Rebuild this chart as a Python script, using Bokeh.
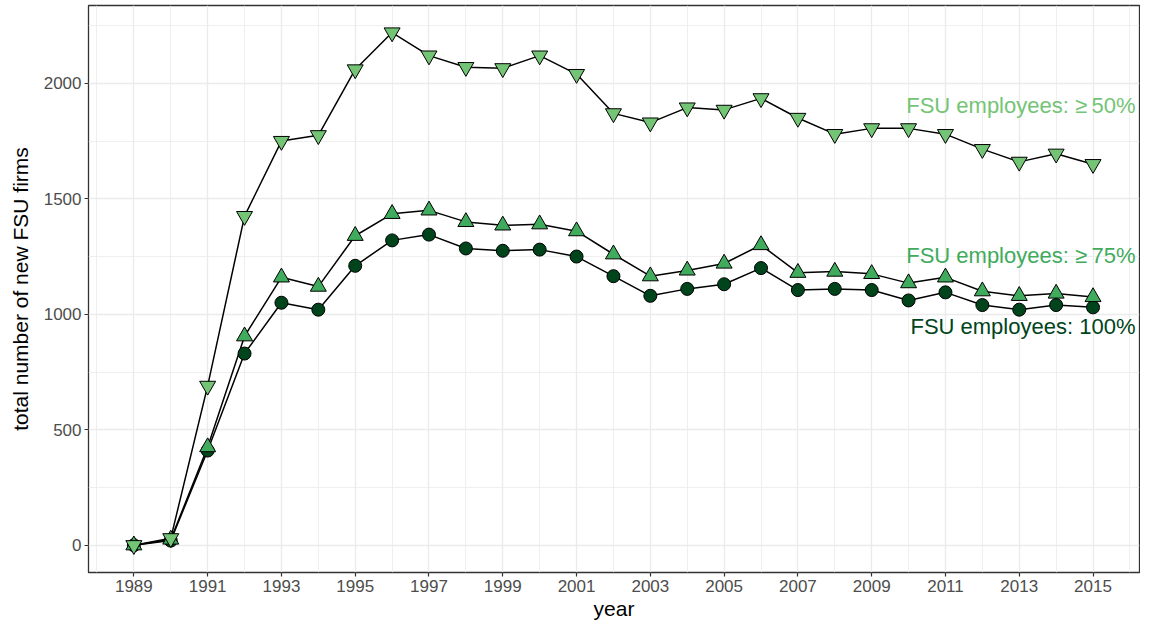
from bokeh.plotting import figure
from bokeh.models import FixedTicker, Range1d, ColumnDataSource
from bokeh.core.properties import value
from bokeh.embed import file_html
from bokeh.resources import INLINE

years = list(range(1989, 2016))

fsu_50 = [0, 30, 690, 1425, 1750, 1775, 2060, 2220, 2120, 2070, 2065, 2120, 2040,
          1870, 1830, 1895, 1885, 1935, 1850, 1780, 1805, 1805, 1780, 1715, 1660, 1695, 1650]
fsu_75 = [0, 25, 425, 905, 1160, 1120, 1340, 1435, 1450, 1400, 1385, 1390, 1360,
          1260, 1165, 1190, 1220, 1300, 1180, 1185, 1175, 1135, 1160, 1100, 1080, 1090, 1075]
fsu_100 = [0, 20, 410, 830, 1050, 1020, 1210, 1320, 1345, 1285, 1275, 1280, 1250,
           1165, 1080, 1110, 1130, 1200, 1105, 1110, 1105, 1060, 1095, 1040, 1020, 1040, 1030]

series_labels = ["FSU employees: \u2265\u200950%", "FSU employees: \u2265\u200975%", "FSU employees: 100%"]
series_colors = ["#74c476", "#41ab5d", "#00441b"]

x_major = list(range(1989, 2016, 2))
x_minor = list(range(1988, 2017, 2))
y_major = [0, 500, 1000, 1500, 2000]
y_minor = [250, 750, 1250, 1750, 2250]

FONT = "Liberation Sans"

p = figure(width=1140, height=625, output_backend="svg", toolbar_location=None,
           x_range=Range1d(1987.77, 2016.26), y_range=Range1d(-118, 2337),
           min_border_left=88, min_border_right=1, min_border_top=5, min_border_bottom=53)

p.background_fill_color = "white"
p.border_fill_color = "white"
p.outline_line_color = "#333333"
p.outline_line_width = 1.3

p.xaxis.ticker = FixedTicker(ticks=x_major, minor_ticks=x_minor)
p.yaxis.ticker = FixedTicker(ticks=y_major, minor_ticks=y_minor)

for g in (p.xgrid[0], p.ygrid[0]):
    g.grid_line_color = "#ebebeb"
    g.grid_line_width = 1.4
    g.minor_grid_line_color = "#ebebeb"
    g.minor_grid_line_width = 0.8

for ax in (p.xaxis[0], p.yaxis[0]):
    ax.axis_line_color = None
    ax.major_tick_line_color = "#333333"
    ax.major_tick_line_width = 1.2
    ax.major_tick_in = 0
    ax.major_tick_out = 4
    ax.minor_tick_line_color = None
    ax.major_label_text_font = FONT
    ax.major_label_text_font_size = "17px"
    ax.major_label_text_color = "#4d4d4d"
    ax.axis_label_text_font = FONT
    ax.axis_label_text_font_size = "21px"
    ax.axis_label_text_font_style = "normal"
    ax.axis_label_text_color = "black"
    ax.major_label_standoff = 3
    ax.axis_label_standoff = 2
p.yaxis[0].axis_label_standoff = 9

p.xaxis.axis_label = "year"
p.yaxis.axis_label = "total number of new FSU firms"

src = ColumnDataSource(dict(year=years, s50=fsu_50, s75=fsu_75, s100=fsu_100))

for col in ("s100", "s75", "s50"):
    p.line("year", col, source=src, line_color="black", line_width=1.5)

p.scatter("year", "s100", source=src, marker="circle", size=13,
          fill_color=series_colors[2], line_color="black", line_width=1)
p.scatter("year", "s75", source=src, marker="triangle", size=16,
          fill_color=series_colors[1], line_color="black", line_width=1)
p.scatter("year", "s50", source=src, marker="inverted_triangle", size=16,
          fill_color=series_colors[0], line_color="black", line_width=1)

lab_src = ColumnDataSource(dict(x=[2016.15, 2016.15, 2016.15], y=[1903, 1253, 949],
                                text=series_labels, color=series_colors))
p.text("x", "y", text="text", source=lab_src, text_color="color",
       text_align="right", text_baseline="middle",
       text_font=value(FONT), text_font_size="22px")

open("out.html", "w").write(file_html(p, INLINE))
